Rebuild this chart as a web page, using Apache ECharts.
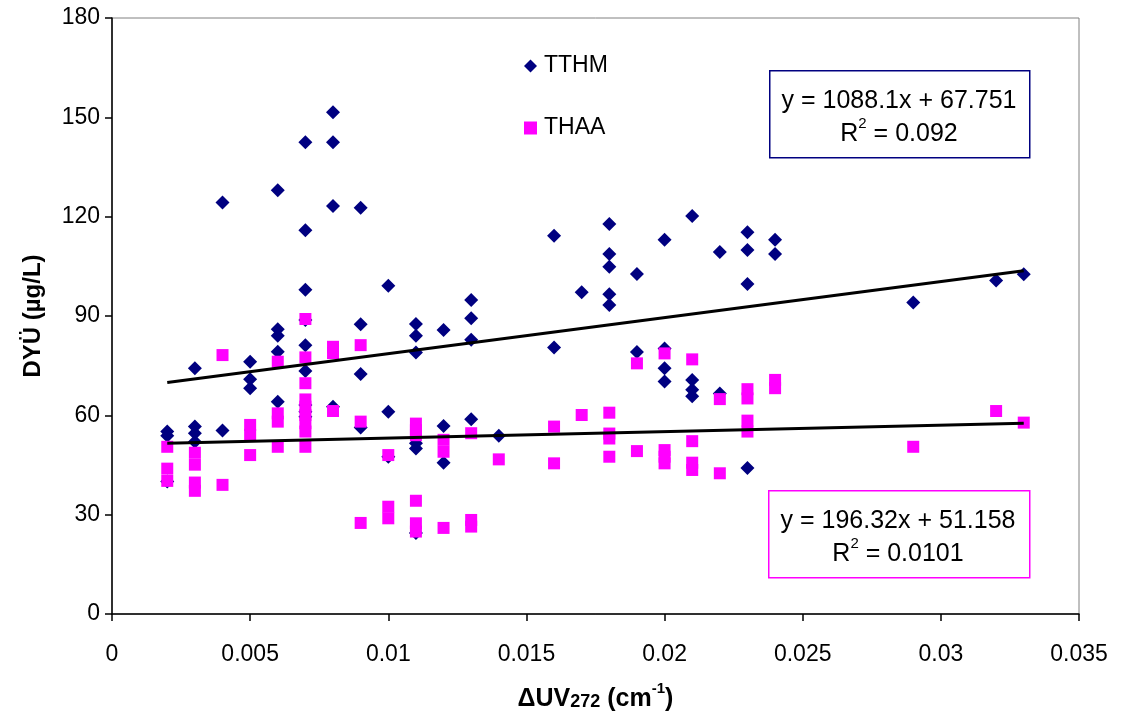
<!DOCTYPE html>
<html>
<head>
<meta charset="utf-8">
<title>DYÜ vs ΔUV272</title>
<script src="https://cdn.jsdelivr.net/npm/echarts@6/dist/echarts.min.js"></script>
<style>
  html, body { margin: 0; padding: 0; background: #fff; }
  #chart { width: 1128px; height: 722px; }
</style>
</head>
<body>
<div id="chart"></div>
<script>
// ΔUV272 (cm-1) vs TTHM (µg/L)
const tthmPoints = [
  [0.002, 55.1], [0.002, 53.8], [0.002, 40.0],
  [0.003, 74.2], [0.003, 56.6], [0.003, 54.6], [0.003, 52.0],
  [0.004, 124.3], [0.004, 55.4],
  [0.005, 76.2], [0.005, 70.9], [0.005, 68.2],
  [0.006, 128.0], [0.006, 86.0], [0.006, 84.0], [0.006, 79.2], [0.006, 64.1],
  [0.007, 142.5], [0.007, 115.9], [0.007, 97.9], [0.007, 88.8], [0.007, 81.2],
  [0.007, 73.4], [0.007, 63.1], [0.007, 61.1], [0.007, 59.6],
  [0.008, 151.5], [0.008, 142.5], [0.008, 123.2], [0.008, 62.6],
  [0.009, 122.7], [0.009, 87.5], [0.009, 72.5], [0.009, 56.3],
  [0.010, 99.1], [0.010, 61.1], [0.010, 47.5],
  [0.011, 87.6], [0.011, 84.0], [0.011, 79.0], [0.011, 51.6], [0.011, 50.0], [0.011, 24.5],
  [0.012, 85.8], [0.012, 56.8], [0.012, 45.7],
  [0.013, 94.8], [0.013, 89.3], [0.013, 82.8], [0.013, 58.8],
  [0.014, 53.8],
  [0.016, 114.2], [0.016, 80.5],
  [0.017, 97.2],
  [0.018, 117.8], [0.018, 108.7], [0.018, 104.9], [0.018, 96.6], [0.018, 93.3],
  [0.019, 102.7], [0.019, 79.1],
  [0.020, 113.0], [0.020, 80.2], [0.020, 74.2], [0.020, 70.2],
  [0.021, 120.2], [0.021, 70.7], [0.021, 67.7], [0.021, 65.8],
  [0.022, 109.3], [0.022, 66.6],
  [0.023, 115.3], [0.023, 109.9], [0.023, 99.7], [0.023, 44.1],
  [0.024, 113.0], [0.024, 108.7],
  [0.029, 94.1], [0.032, 100.7], [0.033, 102.6]
];

// ΔUV272 (cm-1) vs THAA (µg/L)
const thaaPoints = [
  [0.002, 50.5], [0.002, 43.9], [0.002, 40.2],
  [0.003, 48.7], [0.003, 45.1], [0.003, 39.7], [0.003, 37.2],
  [0.004, 78.2], [0.004, 39.0],
  [0.005, 57.1], [0.005, 54.1], [0.005, 48.0],
  [0.006, 76.2], [0.006, 60.6], [0.006, 58.1], [0.006, 50.5],
  [0.007, 89.1], [0.007, 77.5], [0.007, 69.7], [0.007, 64.8], [0.007, 62.6],
  [0.007, 60.1], [0.007, 57.6], [0.007, 55.1], [0.007, 50.5],
  [0.008, 80.7], [0.008, 78.8], [0.008, 61.3],
  [0.009, 81.2], [0.009, 58.1], [0.009, 27.5],
  [0.010, 48.0], [0.010, 32.4], [0.010, 28.9],
  [0.011, 57.5], [0.011, 55.5], [0.011, 54.0], [0.011, 34.2], [0.011, 27.4], [0.011, 24.9],
  [0.012, 52.6], [0.012, 49.0], [0.012, 26.0],
  [0.013, 54.6], [0.013, 28.4], [0.013, 26.4],
  [0.014, 46.7],
  [0.016, 56.6], [0.016, 45.5],
  [0.017, 60.1],
  [0.018, 60.8], [0.018, 54.5], [0.018, 53.0], [0.018, 47.5],
  [0.019, 75.7], [0.019, 49.2],
  [0.020, 78.7], [0.020, 49.5], [0.020, 47.5], [0.020, 45.5],
  [0.021, 76.9], [0.021, 52.2], [0.021, 45.7], [0.021, 43.5],
  [0.022, 64.9], [0.022, 42.5],
  [0.023, 67.9], [0.023, 65.1], [0.023, 58.4], [0.023, 55.1],
  [0.024, 70.7], [0.024, 68.2],
  [0.029, 50.5], [0.032, 61.3], [0.033, 57.8]
];

// Linear fits: [slope, intercept, R²]
const tthmFit = [1088.1, 67.751, 0.092];
const thaaFit = [196.32, 51.158, 0.0101];

const xTicks = [0, 0.005, 0.01, 0.015, 0.02, 0.025, 0.03, 0.035];
const yTicks = [0, 30, 60, 90, 120, 150, 180];

const FONT = '"Liberation Sans", Arial, sans-serif';

function fitLine(points, fit) {
  const xs = points.map(p => p[0]);
  const x0 = Math.min.apply(null, xs), x1 = Math.max.apply(null, xs);
  return [[x0, fit[0] * x0 + fit[1]], [x1, fit[0] * x1 + fit[1]]];
}

function equationText(fit) {
  return '{t|y = ' + fit[0] + 'x + ' + fit[1] + '}\n{t|R}{s|2}{t| = ' + fit[2] + '}';
}

const eqRich = {
  t: { fontFamily: FONT, fontSize: 25, color: '#000', lineHeight: 33, verticalAlign: 'bottom' },
  s: { fontFamily: FONT, fontSize: 15, color: '#000', lineHeight: 33, verticalAlign: 'top', padding: [2, 0, 0, 0] }
};

const chart = echarts.init(document.getElementById('chart'), null, { renderer: 'canvas' });

chart.setOption({
  animation: false,
  backgroundColor: '#fff',
  grid: {
    left: 112, right: 49, top: 18, bottom: 108,
    show: true, borderColor: '#808080', borderWidth: 1, backgroundColor: '#fff'
  },
  legend: {
    data: [
      { name: 'TTHM', icon: 'diamond' },
      { name: 'THAA', icon: 'rect' }
    ],
    orient: 'vertical',
    left: 519, top: 48,
    itemWidth: 13, itemHeight: 13, itemGap: 36,
    textStyle: { fontFamily: FONT, fontSize: 23, color: '#000', lineHeight: 26, padding: [0, 0, 0, 2] }
  },
  xAxis: {
    type: 'value',
    min: xTicks[0], max: xTicks[xTicks.length - 1], interval: xTicks[1] - xTicks[0],
    splitLine: { show: false },
    axisLine: { onZero: false, lineStyle: { color: '#000', width: 1.5 } },
    axisTick: { show: true, length: 7, lineStyle: { color: '#000', width: 1.5 } },
    axisLabel: { fontFamily: FONT, fontSize: 23, color: '#000', margin: 29, formatter: v => String(+v.toFixed(3)) },
    name: '{b|ΔUV}{s|272}{b| (cm}{p|-1}{b|)}',
    nameLocation: 'middle',
    nameGap: 66,
    nameTextStyle: {
      rich: {
        b: { fontFamily: FONT, fontSize: 25, fontWeight: 'bold', color: '#000', lineHeight: 32, verticalAlign: 'bottom' },
        s: { fontFamily: FONT, fontSize: 18, fontWeight: 'bold', color: '#000', lineHeight: 32, verticalAlign: 'bottom', padding: [0, 0, 1, 0] },
        p: { fontFamily: FONT, fontSize: 15, fontWeight: 'bold', color: '#000', lineHeight: 32, verticalAlign: 'top', padding: [1, 0, 0, 0] }
      }
    }
  },
  yAxis: {
    type: 'value',
    min: yTicks[0], max: yTicks[yTicks.length - 1], interval: yTicks[1] - yTicks[0],
    splitLine: { show: false },
    axisLine: { onZero: false, lineStyle: { color: '#000', width: 1.5 } },
    axisTick: { show: true, length: 7, lineStyle: { color: '#000', width: 1.5 } },
    axisLabel: { fontFamily: FONT, fontSize: 23, color: '#000', margin: 12 },
    name: 'DYÜ (µg/L)',
    nameLocation: 'middle',
    nameGap: 67,
    nameTextStyle: { fontFamily: FONT, fontSize: 24, fontWeight: 'bold', color: '#000' }
  },
  series: [
    {
      name: 'TTHM', type: 'scatter', data: tthmPoints,
      symbol: 'diamond', symbolSize: 14,
      itemStyle: { color: '#000080', opacity: 1 }, z: 2
    },
    {
      name: 'THAA', type: 'scatter', data: thaaPoints,
      symbol: 'rect', symbolSize: 12,
      itemStyle: { color: '#FF00FF', opacity: 1 }, z: 3
    },
    {
      name: 'TTHM fit', type: 'line', data: fitLine(tthmPoints, tthmFit),
      showSymbol: false, symbol: 'none',
      lineStyle: { color: '#000', width: 3 }, z: 4, silent: true
    },
    {
      name: 'THAA fit', type: 'line', data: fitLine(thaaPoints, thaaFit),
      showSymbol: false, symbol: 'none',
      lineStyle: { color: '#000', width: 3 }, z: 4, silent: true
    }
  ],
  graphic: [
    {
      type: 'rect', left: 769, top: 70, z: 10,
      shape: { width: 260, height: 87 },
      style: { fill: '#fff', stroke: '#000080', lineWidth: 1.5 }
    },
    {
      type: 'text', z: 11, x: 899, y: 114,
      style: { text: equationText(tthmFit), rich: eqRich, align: 'center', verticalAlign: 'middle', textAlign: 'center', textVerticalAlign: 'middle' }
    },
    {
      type: 'rect', left: 768, top: 490, z: 10,
      shape: { width: 261, height: 87 },
      style: { fill: '#fff', stroke: '#FF00FF', lineWidth: 1.5 }
    },
    {
      type: 'text', z: 11, x: 898, y: 534,
      style: { text: equationText(thaaFit), rich: eqRich, align: 'center', verticalAlign: 'middle', textAlign: 'center', textVerticalAlign: 'middle' }
    }
  ]
});
</script>
</body>
</html>
